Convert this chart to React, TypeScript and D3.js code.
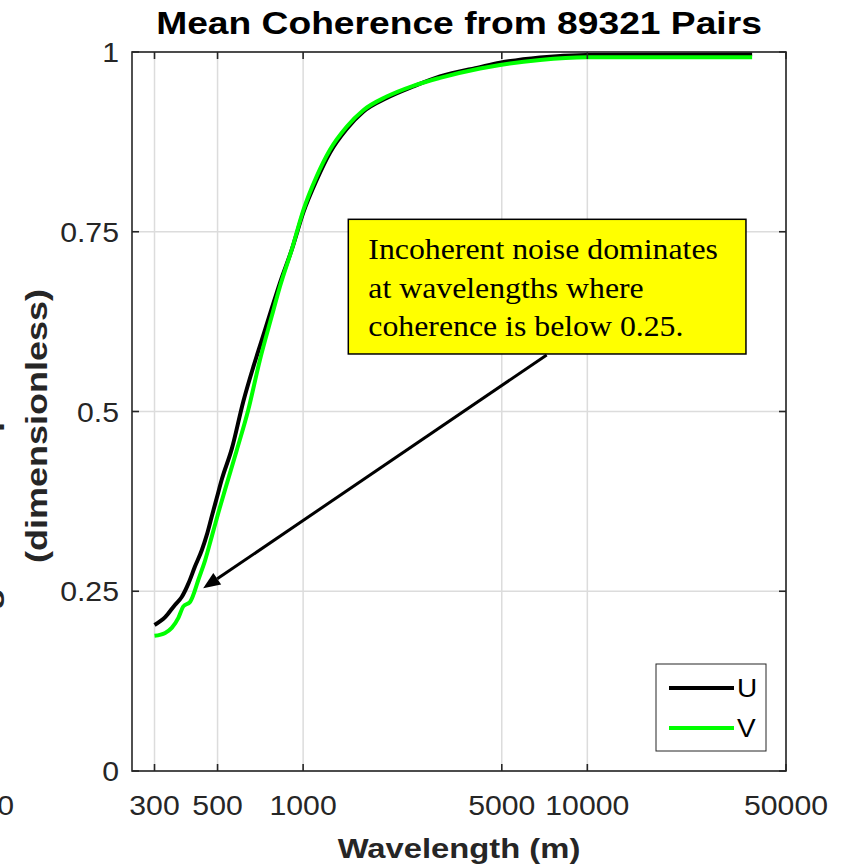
import React from 'react';
import * as d3 from 'd3';

// ---------- data ----------
const wavelengthU = [300, 327, 354, 374, 395, 416, 440, 458, 477, 497, 517, 561, 616, 668, 715, 775, 829, 912, 1002, 1116, 1243, 1423, 1628, 1968, 2441, 3031, 4192, 4929, 6816, 9950, 38000];
const coherenceU = [0.203, 0.214, 0.231, 0.242, 0.261, 0.284, 0.307, 0.328, 0.354, 0.38, 0.405, 0.448, 0.514, 0.562, 0.599, 0.643, 0.679, 0.725, 0.777, 0.822, 0.86, 0.893, 0.917, 0.936, 0.952, 0.966, 0.979, 0.985, 0.9925, 0.996, 0.997];

const wavelengthV = [300, 327, 345, 364, 379, 400, 411, 428, 452, 477, 503, 531, 584, 641, 705, 775, 829, 912, 1002, 1116, 1243, 1423, 1628, 1968, 2441, 3031, 4192, 4929, 6816, 9950, 38000];
const coherenceV = [0.188, 0.192, 0.199, 0.213, 0.229, 0.235, 0.245, 0.266, 0.293, 0.326, 0.359, 0.391, 0.446, 0.502, 0.572, 0.632, 0.674, 0.725, 0.78, 0.827, 0.864, 0.896, 0.919, 0.938, 0.953, 0.964, 0.977, 0.982, 0.989, 0.9926, 0.9926];

const seriesNames = ['U', 'V'];
const seriesColors = ['#000000', '#00ff00'];

const xTicks = [300, 500, 1000, 5000, 10000, 50000];
const xTickLabels = ['300', '500', '1000', '5000', '10000', '50000'];
const yTicks = [0, 0.25, 0.5, 0.75, 1];
const yTickLabels = ['0', '0.25', '0.5', '0.75', '1'];

const titleText = 'Mean Coherence from 89321 Pairs';
const xLabelText = 'Wavelength (m)';
const yLabelLines = ['Magnitude-Squared Coherence', '(dimensionless)'];
const noteLines = ['Incoherent noise dominates', 'at wavelengths where', 'coherence is below 0.25.'];
// annotation anchors in data units
const noteBoxX = [1442, 36150];
const noteBoxY = [0.58, 0.7673];
const arrowFrom = [7193, 0.5786];
const arrowTo = [445, 0.254];

// ---------- layout ----------
const W = 846;
const H = 868;
const L = 132, R = 786, T = 52, B = 771;
const SANS = '"Liberation Sans", Arial, Helvetica, sans-serif';
const SERIF = '"Liberation Serif", "Times New Roman", serif';
const AX = '#262626';
const SX = 1.12;

function Txt(props: any) {
  const { x, y, rot = 0, sx = SX, children, ...rest } = props;
  return (
    <text transform={`translate(${x},${y}) rotate(${rot}) scale(${sx},1)`} {...rest}>
      {children}
    </text>
  );
}

export default function App() {
  const x = d3.scaleLog().domain([250, 50000]).range([L, R]);
  const y = d3.scaleLinear().domain([0, 1]).range([B, T]);

  const line = d3
    .line<[number, number]>()
    .x((d) => x(d[0]))
    .y((d) => y(d[1]))
    .curve(d3.curveMonotoneX);

  const series = [
    wavelengthU.map((w, i) => [w, coherenceU[i]] as [number, number]),
    wavelengthV.map((w, i) => [w, coherenceV[i]] as [number, number]),
  ];

  const tickLen = 7;

  // annotation geometry
  const bx0 = x(noteBoxX[0]);
  const bx1 = x(noteBoxX[1]);
  const by0 = y(noteBoxY[1]);
  const by1 = y(noteBoxY[0]);
  const ax0 = x(arrowFrom[0]);
  const ay0 = y(arrowFrom[1]);
  const ax1 = x(arrowTo[0]);
  const ay1 = y(arrowTo[1]);
  const ang = Math.atan2(ay1 - ay0, ax1 - ax0);
  const headL = 17;
  const headW = 7;
  const hbx = ax1 - headL * Math.cos(ang);
  const hby = ay1 - headL * Math.sin(ang);
  const px = -Math.sin(ang);
  const py = Math.cos(ang);
  const head = `${ax1},${ay1} ${hbx + headW * px},${hby + headW * py} ${hbx - headW * px},${hby - headW * py}`;

  const midX = (L + R) / 2;

  return (
    <svg
      width={W}
      height={H}
      viewBox={`0 0 ${W} ${H}`}
      style={{ position: 'absolute', left: 0, top: 0, background: '#fff' }}
    >
      <rect x={0} y={0} width={W} height={H} fill="#ffffff" />
      <rect x={L} y={T} width={R - L} height={B - T} fill="#ffffff" />

      {/* grid */}
      <g stroke="#dcdcdc" strokeWidth={1.5}>
        {xTicks.map((t) => (
          <line key={'gx' + t} x1={x(t)} x2={x(t)} y1={T} y2={B} />
        ))}
        {yTicks.map((t) => (
          <line key={'gy' + t} x1={L} x2={R} y1={y(t)} y2={y(t)} />
        ))}
      </g>

      {/* series */}
      {series.map((s, i) => (
        <path
          key={seriesNames[i]}
          d={line(s) || ''}
          fill="none"
          stroke={seriesColors[i]}
          strokeWidth={4}
          strokeLinejoin="round"
          strokeLinecap="butt"
        />
      ))}

      {/* axes box + ticks */}
      <g stroke={AX} strokeWidth={1.6} fill="none">
        <rect x={L} y={T} width={R - L} height={B - T} />
        {xTicks.map((t) => (
          <g key={'tx' + t}>
            <line x1={x(t)} x2={x(t)} y1={B} y2={B - tickLen} />
            <line x1={x(t)} x2={x(t)} y1={T} y2={T + tickLen} />
          </g>
        ))}
        {yTicks.map((t) => (
          <g key={'ty' + t}>
            <line x1={L} x2={L + tickLen} y1={y(t)} y2={y(t)} />
            <line x1={R} x2={R - tickLen} y1={y(t)} y2={y(t)} />
          </g>
        ))}
      </g>

      {/* tick labels */}
      <g fontFamily={SANS} fontSize={27} fill={AX}>
        {xTicks.map((t, i) => (
          <Txt key={'lx' + t} x={x(t)} y={815} textAnchor="middle">
            {xTickLabels[i]}
          </Txt>
        ))}
        {yTicks.map((t, i) => (
          <Txt key={'ly' + t} x={119} y={y(t) + 10} textAnchor="end">
            {yTickLabels[i]}
          </Txt>
        ))}
        {/* clipped label of neighbouring axis */}
        <Txt x={14} y={815} textAnchor="end">50000</Txt>
      </g>

      {/* title & axis labels */}
      <Txt x={midX} y={34} sx={1.2} fontFamily={SANS} fontSize={31} fontWeight="bold" textAnchor="middle" fill="#000">
        {titleText}
      </Txt>
      <Txt x={midX} y={858} sx={1.17} fontFamily={SANS} fontSize={28} fontWeight="bold" textAnchor="middle" fill={AX}>
        {xLabelText}
      </Txt>
      <Txt x={-2} y={394} rot={-90} sx={1.2} fontFamily={SANS} fontSize={30} fontWeight="bold" textAnchor="middle" fill={AX}>
        {yLabelLines[0]}
      </Txt>
      <Txt x={47} y={426} rot={-90} sx={1.2} fontFamily={SANS} fontSize={30} fontWeight="bold" textAnchor="middle" fill={AX}>
        {yLabelLines[1]}
      </Txt>

      {/* annotation */}
      <line x1={ax0} y1={ay0} x2={hbx} y2={hby} stroke="#000" strokeWidth={3} />
      <polygon points={head} fill="#000" />
      <rect x={bx0} y={by0} width={bx1 - bx0} height={by1 - by0} fill="#ffff00" stroke="#000" strokeWidth={1.5} />
      {noteLines.map((s, i) => (
        <Txt
          key={'n' + i}
          x={bx0 + 20}
          y={by0 + 40 + i * 38.3}
          sx={1.06}
          fontFamily={SERIF}
          fontSize={30}
          fill="#000"
        >
          {s}
        </Txt>
      ))}

      {/* legend */}
      <g>
        <rect x={656} y={664} width={110} height={87} fill="#ffffff" stroke={AX} strokeWidth={1} />
        {seriesNames.map((n, i) => (
          <g key={'lg' + n}>
            <line x1={669} x2={734} y1={688 + i * 40} y2={688 + i * 40} stroke={seriesColors[i]} strokeWidth={4} />
            <Txt x={737} y={688 + i * 40 + 9} fontFamily={SANS} fontSize={25} fill="#000">
              {n}
            </Txt>
          </g>
        ))}
      </g>
    </svg>
  );
}
